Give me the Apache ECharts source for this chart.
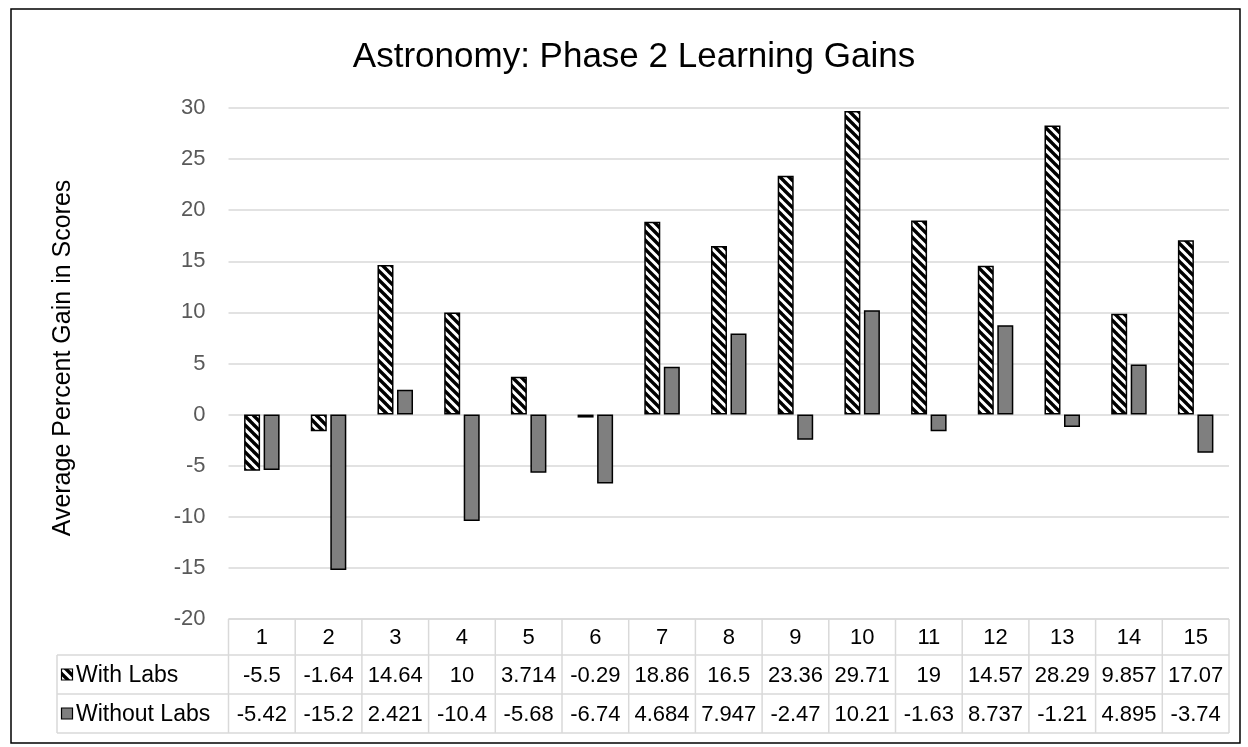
<!DOCTYPE html>
<html>
<head>
<meta charset="utf-8">
<script src="https://cdn.jsdelivr.net/npm/echarts@6/dist/echarts.min.js"></script>
<style>
html, body { margin: 0; padding: 0; background: #fff; }
#main { width: 1248px; height: 747px; }
</style>
</head>
<body>
<div id="main"></div>
<script>
// 数据
var categories = ["1", "2", "3", "4", "5", "6", "7", "8", "9", "10", "11", "12", "13", "14", "15"];
var withLabs = [-5.5, -1.64, 14.64, 10, 3.714, -0.29, 18.86, 16.5, 23.36, 29.71, 19, 14.57, 28.29, 9.857, 17.07];
var withoutLabs = [-5.42, -15.2, 2.421, -10.4, -5.68, -6.74, 4.684, 7.947, -2.47, 10.21, -1.63, 8.737, -1.21, 4.895, -3.74];
var seriesNames = ["With Labs", "Without Labs"];
var yTicks = { min: -20, max: 30, interval: 5 };

var FONT = "'Liberation Sans', Arial, sans-serif";

// 斜线填充
function makeHatch() {
    var size = 9;
    var c = document.createElement("canvas");
    c.width = size;
    c.height = size;
    var ctx = c.getContext("2d");
    ctx.fillStyle = "#ffffff";
    ctx.fillRect(0, 0, size, size);
    ctx.strokeStyle = "#000000";
    ctx.lineWidth = 3.4;
    [-size, 0, size].forEach(function (k) {
        ctx.beginPath();
        ctx.moveTo(-1, k - 1);
        ctx.lineTo(size + 1, size + k + 1);
        ctx.stroke();
    });
    return c;
}
var hatch = { image: makeHatch(), repeat: "repeat" };

var chart = echarts.init(document.getElementById("main"));

// 表格布局
var gridLeft = 228.5, gridRight = 1229, gridTop = 108, gridBottom = 619;
var rowLines = [619, 655, 694, 733];
var labelLeft = 57;
var colW = (gridRight - gridLeft) / categories.length;
var lineColor = "#d9d9d9";

function buildTable() {
    var els = [];
    // 外框
    els.push({
        type: "rect",
        shape: { x: 11, y: 9, width: 1229, height: 734 },
        style: { fill: null, stroke: "#000", lineWidth: 1.5 },
        silent: true
    });
    // 纵轴标题
    els.push({
        type: "text",
        x: 63,
        y: 358,
        rotation: Math.PI / 2,
        style: { text: "Average Percent Gain in Scores", fill: "#000", font: "25px " + FONT, align: "center", verticalAlign: "middle" }
    });
    // 横线
    els.push({ type: "line", shape: { x1: gridLeft, y1: rowLines[0], x2: gridRight, y2: rowLines[0] }, style: { stroke: lineColor, lineWidth: 1.5 } });
    for (var r = 1; r < rowLines.length; r++) {
        els.push({ type: "line", shape: { x1: labelLeft, y1: rowLines[r], x2: gridRight, y2: rowLines[r] }, style: { stroke: lineColor, lineWidth: 1.5 } });
    }
    // 竖线
    els.push({ type: "line", shape: { x1: labelLeft, y1: rowLines[1], x2: labelLeft, y2: rowLines[3] }, style: { stroke: lineColor, lineWidth: 1.5 } });
    for (var i = 0; i <= categories.length; i++) {
        var x = gridLeft + i * colW;
        els.push({ type: "line", shape: { x1: x, y1: rowLines[0], x2: x, y2: rowLines[3] }, style: { stroke: lineColor, lineWidth: 1.5 } });
    }
    var rows = [categories, withLabs, withoutLabs];
    for (var r2 = 0; r2 < rows.length; r2++) {
        var cy = (rowLines[r2] + rowLines[r2 + 1]) / 2 + 1;
        for (var j = 0; j < categories.length; j++) {
            els.push({
                type: "text",
                x: gridLeft + (j + 0.5) * colW,
                y: cy,
                style: { text: String(rows[r2][j]), fill: "#000", font: "22px " + FONT, align: "center", verticalAlign: "middle" }
            });
        }
    }
    // 图例 + 系列名
    var fills = [hatch, "#7f7f7f"];
    for (var s = 0; s < 2; s++) {
        var cy2 = (rowLines[s + 1] + rowLines[s + 2]) / 2;
        els.push({
            type: "rect",
            shape: { x: 61.5, y: cy2 - 5.5, width: 11, height: 11 },
            style: { fill: fills[s], stroke: "#000", lineWidth: 1.2 }
        });
        els.push({
            type: "text",
            x: 76,
            y: cy2 + 1,
            style: { text: seriesNames[s], fill: "#000", font: "23px " + FONT, align: "left", verticalAlign: "middle" }
        });
    }
    return els;
}

var option = {
    backgroundColor: "#ffffff",
    animation: false,
    title: {
        text: "Astronomy: Phase 2 Learning Gains",
        left: 634,
        textAlign: "center",
        top: 40,
        padding: 0,
        textStyle: { fontFamily: FONT, fontSize: 35, fontWeight: "normal", color: "#000" }
    },
    grid: {
        left: gridLeft,
        right: 1248 - gridRight,
        top: gridTop,
        bottom: 747 - gridBottom,
        containLabel: false
    },
    xAxis: {
        type: "category",
        data: categories,
        axisLine: { show: false },
        axisTick: { show: false },
        axisLabel: { show: false }
    },
    yAxis: {
        type: "value",
        min: yTicks.min,
        max: yTicks.max,
        interval: yTicks.interval,
        axisLine: { show: false },
        axisTick: { show: false },
        axisLabel: { fontFamily: FONT, fontSize: 22, color: "#595959", margin: 23 },
        splitLine: { lineStyle: { color: lineColor, width: 1.5 } }
    },
    series: [
        {
            name: seriesNames[0],
            type: "bar",
            data: withLabs,
            barWidth: 16,
            barGap: "22%",
            itemStyle: { color: hatch, borderColor: "#000", borderWidth: 1.5 }
        },
        {
            name: seriesNames[1],
            type: "bar",
            data: withoutLabs,
            barWidth: 16,
            barGap: "22%",
            itemStyle: { color: "#7f7f7f", borderColor: "#000", borderWidth: 1.5 }
        }
    ],
    graphic: buildTable()
};

chart.setOption(option);
</script>
</body>
</html>
